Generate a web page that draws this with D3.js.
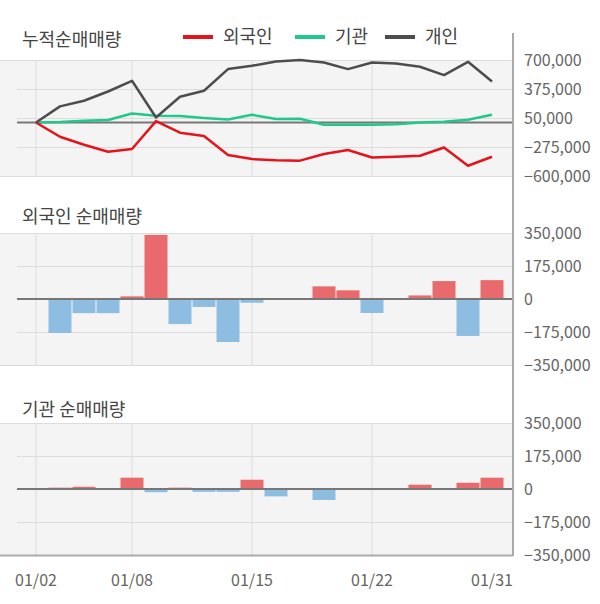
<!DOCTYPE html>
<html>
<head>
  <meta charset="utf-8">
  <script src="https://cdn.jsdelivr.net/npm/d3@7/dist/d3.min.js"></script>
  <style>
    body { margin: 0; background: #fff; }
    text { font-family: "Noto Sans CJK KR", "Noto Sans", sans-serif; }
  </style>
</head>
<body>
  <svg width="600" height="604" id="mainsvg"></svg>
  <script>
    // dates (trading days, Jan)
    const dates = ['01/02','01/03','01/06','01/07','01/08','01/09','01/10','01/13','01/14','01/15',
                   '01/16','01/17','01/20','01/21','01/22','01/23','01/28','01/29','01/30','01/31'];
    const xTicks = ['01/02','01/08','01/15','01/22','01/31'];
    const gridDates = ['01/02','01/08','01/15','01/22'];

    // cumulative net buying
    const cumForeign = [0,-160000,-250000,-328000,-298000,15000,-115000,-152000,-365000,-410000,
                        -423000,-428000,-354000,-309000,-392000,-384000,-373000,-280000,-485000,-384000];
    const cumInst = [0,5000,20000,27000,101000,75000,72000,49000,34000,86000,
                     38000,42000,-26000,-26000,-26000,-20000,0,8000,30000,86000];
    const cumIndiv = [0,180000,243000,347000,467000,56000,288000,355000,598000,635000,
                      684000,699000,672000,598000,672000,661000,624000,531000,680000,460000];

    // daily net buying
    const foreign = [0,-180000,-75000,-75000,14000,340000,-133000,-42000,-228000,-20000,
                     0,0,67000,46000,-74000,0,19000,95000,-196000,100000];
    const inst = [0,7000,12000,0,60000,-17000,7000,-15000,-15000,49000,
                  -39000,0,-58000,0,0,0,23000,0,33000,60000];

    const topTicks = [700000,375000,50000,-275000,-600000];
    const barTicks = [350000,175000,0,-175000,-350000];

    const svg = d3.select('#mainsvg');
    const plotLeft = 0, plotRight = 513;
    const fmt = d3.format(',');

    const xScale = d3.scaleLinear().domain([0, dates.length - 1]).range([36, 492]);
    const xi = d => xScale(dates.indexOf(d));

    function panel(top, bottom, ticks, isLast) {
      const y = d3.scaleLinear().domain([ticks[ticks.length - 1], ticks[0]]).range([bottom, top]);
      const g = svg.append('g');
      g.append('rect').attr('x', plotLeft).attr('y', top)
        .attr('width', plotRight - plotLeft).attr('height', bottom - top).attr('fill', '#f4f4f4');
      // vertical grid
      g.selectAll('.vg').data(gridDates).join('line')
        .attr('x1', d => xi(d)).attr('x2', d => xi(d)).attr('y1', top).attr('y2', bottom)
        .attr('stroke', '#dcdcdc').attr('stroke-width', 1);
      // horizontal grid
      g.selectAll('.hg').data(ticks).join('line')
        .attr('x1', (d, i) => (i === 0 || i === ticks.length - 1) ? plotLeft : 17)
        .attr('x2', plotRight)
        .attr('y1', d => Math.round(y(d)) + 0.5).attr('y2', d => Math.round(y(d)) + 0.5)
        .attr('stroke', (d, i) => (isLast && i === ticks.length - 1) ? '#aaa' : '#dcdcdc')
        .attr('stroke-width', (d, i) => (isLast && i === ticks.length - 1) ? 2 : 1);
      // tick labels
      g.selectAll('.tl').data(ticks).join('text')
        .attr('x', 524).attr('y', d => y(d)).attr('dy', '0.35em')
        .attr('font-size', 16).attr('fill', '#666').text(d => fmt(d));
      return { g, y };
    }

    function zeroLine(p) {
      p.g.append('line').attr('x1', 17).attr('x2', plotRight)
        .attr('y1', p.y(0)).attr('y2', p.y(0))
        .attr('stroke', '#777').attr('stroke-width', 2);
    }

    // --- top: cumulative ---
    const p1 = panel(60, 176, topTicks, false);
    zeroLine(p1);
    const series = [
      { name: '외국인', values: cumForeign, color: '#e5141b' },
      { name: '기관', values: cumInst, color: '#1fc98a' },
      { name: '개인', values: cumIndiv, color: '#4d4d4d' }
    ];
    const line = d3.line().x((d, i) => xScale(i)).y(d => p1.y(d));
    [series[1], series[0], series[2]].forEach(s => {
      p1.g.append('path').datum(s.values).attr('d', line)
        .attr('fill', 'none').attr('stroke', s.color).attr('stroke-width', 2.5)
        .attr('stroke-linejoin', 'round');
    });

    // --- bar panels ---
    function bars(p, values) {
      const bw = 23;
      p.g.selectAll('.bar').data(values).join('rect')
        .attr('x', (d, i) => xScale(i) - bw / 2)
        .attr('width', bw)
        .attr('y', d => d >= 0 ? p.y(d) : p.y(0))
        .attr('height', d => Math.abs(p.y(d) - p.y(0)))
        .attr('fill', d => d >= 0 ? '#e86a6c' : '#8dbde1');
      zeroLine(p);
    }
    const p2 = panel(233, 365, barTicks, false);
    bars(p2, foreign);
    const p3 = panel(423, 555, barTicks, true);
    bars(p3, inst);

    // right border
    svg.append('line').attr('x1', plotRight).attr('x2', plotRight).attr('y1', 33).attr('y2', 556)
      .attr('stroke', '#aaa').attr('stroke-width', 2);

    // x labels
    svg.selectAll('.xl').data(xTicks).join('text')
      .attr('x', d => xi(d)).attr('y', 586).attr('text-anchor', 'middle')
      .attr('font-size', 16).attr('fill', '#666').text(d => d);

    // titles
    const titles = [['누적순매매량', 46], ['외국인 순매매량', 223], ['기관 순매매량', 416]];
    svg.selectAll('.title').data(titles).join('text')
      .attr('x', 22).attr('y', d => d[1]).attr('font-size', 18).attr('fill', '#444').text(d => d[0]);

    // legend
    const legendX = [183, 295, 385];
    series.forEach((s, i) => {
      const lg = svg.append('g').attr('transform', `translate(${legendX[i]}, 37)`);
      lg.append('line').attr('x1', 0).attr('x2', 30).attr('y1', 0).attr('y2', 0)
        .attr('stroke', s.color).attr('stroke-width', 4);
      lg.append('text').attr('x', 40).attr('y', 0).attr('dy', '0.35em')
        .attr('font-size', 18).attr('fill', '#444').text(s.name);
    });
  </script>
</body>
</html>
